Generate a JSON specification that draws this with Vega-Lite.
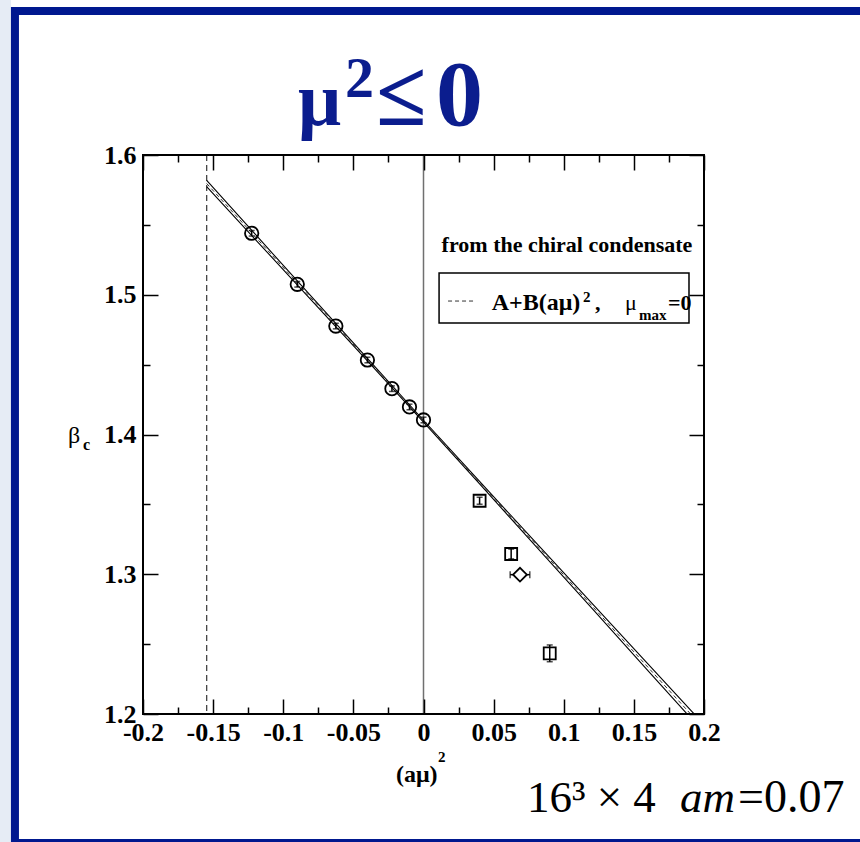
{
  "$schema": "https://vega.github.io/schema/vega-lite/v6.json",
  "width": 561,
  "height": 559,
  "autosize": {"type": "none"},
  "padding": {"left": 143, "top": 155, "right": 156, "bottom": 128},
  "background": "white",
  "config": {
    "view": {"stroke": null},
    "font": "Liberation Serif",
    "axis": {
      "zindex": 1,
      "domain": false,
      "grid": false,
      "tickColor": "black",
      "tickWidth": 1.5,
      "labelColor": "black",
      "labelFont": "Liberation Serif",
      "labelFontWeight": "bold",
      "labelFontSize": 26,
      "labelOverlap": false,
      "labelFlush": false,
      "titleColor": "black"
    }
  },
  "data": {"values": [{}]},
  "datasets": {
    "circles": [
      {"x": -0.1225, "beta": 1.5440, "lo": 1.5420, "hi": 1.5460},
      {"x": -0.09, "beta": 1.5075, "lo": 1.5055, "hi": 1.5095},
      {"x": -0.0625, "beta": 1.4776, "lo": 1.4756, "hi": 1.4796},
      {"x": -0.04, "beta": 1.4533, "lo": 1.4513, "hi": 1.4553},
      {"x": -0.0225, "beta": 1.4328, "lo": 1.4308, "hi": 1.4348},
      {"x": -0.01, "beta": 1.4197, "lo": 1.4177, "hi": 1.4217},
      {"x": 0, "beta": 1.4104, "lo": 1.4084, "hi": 1.4124}
    ],
    "squares": [
      {"x": 0.04, "beta": 1.3526, "lo": 1.3501, "hi": 1.3551},
      {"x": 0.0625, "beta": 1.3145, "lo": 1.3110, "hi": 1.3180},
      {"x": 0.09, "beta": 1.2434, "lo": 1.2374, "hi": 1.2494}
    ],
    "diamond": [
      {"x": 0.0688, "beta": 1.2997, "xlo": 0.0618, "xhi": 0.0758}
    ],
    "band": [
      {"curve": "upper", "x": -0.1546, "beta": 1.5819},
      {"curve": "upper", "x": -0.12, "beta": 1.5433},
      {"curve": "upper", "x": -0.08, "beta": 1.4988},
      {"curve": "upper", "x": -0.04, "beta": 1.4544},
      {"curve": "upper", "x": 0, "beta": 1.4102},
      {"curve": "upper", "x": 0.04, "beta": 1.3664},
      {"curve": "upper", "x": 0.08, "beta": 1.3228},
      {"curve": "upper", "x": 0.12, "beta": 1.2793},
      {"curve": "upper", "x": 0.16, "beta": 1.2359},
      {"curve": "upper", "x": 0.2, "beta": 1.1924},
      {"curve": "lower", "x": -0.1546, "beta": 1.5773},
      {"curve": "lower", "x": -0.12, "beta": 1.5397},
      {"curve": "lower", "x": -0.08, "beta": 1.4962},
      {"curve": "lower", "x": -0.04, "beta": 1.4526},
      {"curve": "lower", "x": 0, "beta": 1.4088},
      {"curve": "lower", "x": 0.04, "beta": 1.3646},
      {"curve": "lower", "x": 0.08, "beta": 1.3202},
      {"curve": "lower", "x": 0.12, "beta": 1.2757},
      {"curve": "lower", "x": 0.16, "beta": 1.2311},
      {"curve": "lower", "x": 0.2, "beta": 1.1866}
    ],
    "fit": [
      {"x": -0.1546, "beta": 1.5796},
      {"x": 0.2, "beta": 1.1895}
    ],
    "refs": [
      {"x": -0.1546, "kind": "mu_max"},
      {"x": 0, "kind": "zero"}
    ]
  },
  "layer": [
    {
      "description": "page margin, left",
      "mark": {"type": "rect", "fill": "#e6ecf5"},
      "encoding": {
        "x": {"datum": -0.4, "type": "quantitative", "scale": {"domain": [-0.2, 0.2], "nice": false, "zero": false}, "axis": null},
        "x2": {"datum": -0.2941},
        "y": {"datum": 1.8, "type": "quantitative", "scale": {"domain": [1.2, 1.6], "nice": false, "zero": false}, "axis": null},
        "y2": {"datum": 1.0}
      }
    },
    {
      "description": "page margin, top",
      "mark": {"type": "rect", "fill": "#e6ecf5"},
      "encoding": {
        "x": {"datum": -0.4, "type": "quantitative", "scale": {"domain": [-0.2, 0.2], "nice": false, "zero": false}, "axis": null},
        "x2": {"datum": 0.5},
        "y": {"datum": 1.8, "type": "quantitative", "scale": {"domain": [1.2, 1.6], "nice": false, "zero": false}, "axis": null},
        "y2": {"datum": 1.7109}
      }
    },
    {
      "description": "slide frame",
      "mark": {"type": "rect", "fill": null, "stroke": "#00188f", "strokeWidth": 8},
      "encoding": {
        "x": {"datum": -0.2913, "type": "quantitative", "scale": {"domain": [-0.2, 0.2], "nice": false, "zero": false}, "axis": null},
        "x2": {"datum": 0.3397},
        "y": {"datum": 1.7030, "type": "quantitative", "scale": {"domain": [1.2, 1.6], "nice": false, "zero": false}, "axis": null},
        "y2": {"datum": 1.1077}
      }
    },
    {
      "data": {"name": "refs"},
      "transform": [{"filter": "datum.kind === 'mu_max'"}],
      "mark": {"type": "rule", "color": "#444444", "strokeWidth": 1.3, "strokeDash": [6, 4]},
      "encoding": {
        "x": {"field": "x", "type": "quantitative", "scale": {"domain": [-0.2, 0.2], "nice": false, "zero": false}, "axis": null}
      }
    },
    {
      "data": {"name": "refs"},
      "transform": [{"filter": "datum.kind === 'zero'"}],
      "mark": {"type": "rule", "color": "#707070", "strokeWidth": 1.5},
      "encoding": {
        "x": {"field": "x", "type": "quantitative", "scale": {"domain": [-0.2, 0.2], "nice": false, "zero": false}, "axis": null}
      }
    },
    {
      "data": {"name": "band"},
      "mark": {"type": "line", "color": "black", "strokeWidth": 1.1, "clip": true},
      "encoding": {
        "x": {"field": "x", "type": "quantitative", "scale": {"domain": [-0.2, 0.2], "nice": false, "zero": false},
              "axis": {"orient": "top", "zindex": 1, "values": [-0.2, -0.15, -0.1, -0.05, 0, 0.05, 0.1, 0.15, 0.2], "tickSize": -15, "labels": false, "title": null}},
        "y": {"field": "beta", "type": "quantitative", "scale": {"domain": [1.2, 1.6], "nice": false, "zero": false},
              "axis": {"orient": "right", "zindex": 1, "values": [1.2, 1.3, 1.4, 1.5, 1.6], "tickSize": -15, "labels": false, "title": null}},
        "detail": {"field": "curve"}
      }
    },
    {
      "data": {"name": "fit"},
      "mark": {"type": "line", "color": "#333333", "strokeWidth": 1, "strokeDash": [4, 3], "clip": true},
      "encoding": {
        "x": {"field": "x", "type": "quantitative", "scale": {"domain": [-0.2, 0.2], "nice": false, "zero": false},
              "axis": {"orient": "top", "zindex": 1, "values": [-0.175, -0.125, -0.075, -0.025, 0.025, 0.075, 0.125, 0.175], "tickSize": -7, "labels": false, "title": null}},
        "y": {"field": "beta", "type": "quantitative", "scale": {"domain": [1.2, 1.6], "nice": false, "zero": false},
              "axis": {"orient": "right", "zindex": 1, "values": [1.25, 1.35, 1.45, 1.55], "tickSize": -7, "labels": false, "title": null}}
      }
    },
    {
      "data": {"name": "circles"},
      "mark": {"type": "errorbar", "ticks": {"size": 6, "thickness": 1.5, "color": "black"}, "rule": {"strokeWidth": 1.5, "color": "black"}},
      "encoding": {
        "x": {"field": "x", "type": "quantitative", "scale": {"domain": [-0.2, 0.2], "nice": false, "zero": false}, "axis": null},
        "y": {"field": "lo", "type": "quantitative", "scale": {"domain": [1.2, 1.6], "nice": false, "zero": false}, "axis": null},
        "y2": {"field": "hi"}
      }
    },
    {
      "data": {"name": "circles"},
      "mark": {"type": "point", "shape": "circle", "size": 180, "filled": false, "color": "black", "strokeWidth": 1.8, "opacity": 1},
      "encoding": {
        "x": {"field": "x", "type": "quantitative", "scale": {"domain": [-0.2, 0.2], "nice": false, "zero": false},
              "axis": {"orient": "bottom", "zindex": 1, "values": [-0.2, -0.15, -0.1, -0.05, 0, 0.05, 0.1, 0.15, 0.2], "tickSize": -15, "labelPadding": 20,
                       "labelExpr": "replace(format(datum.value, '.2~f'), '\u2212', '-')", "title": null}},
        "y": {"field": "beta", "type": "quantitative", "scale": {"domain": [1.2, 1.6], "nice": false, "zero": false},
              "axis": {"orient": "left", "zindex": 1, "values": [1.2, 1.3, 1.4, 1.5, 1.6], "tickSize": -15, "labelPadding": 22, "format": ".1f", "title": null}}
      }
    },
    {
      "data": {"name": "squares"},
      "mark": {"type": "errorbar", "ticks": {"size": 6, "thickness": 1.5, "color": "black"}, "rule": {"strokeWidth": 1.5, "color": "black"}},
      "encoding": {
        "x": {"field": "x", "type": "quantitative", "scale": {"domain": [-0.2, 0.2], "nice": false, "zero": false}, "axis": null},
        "y": {"field": "lo", "type": "quantitative", "scale": {"domain": [1.2, 1.6], "nice": false, "zero": false}, "axis": null},
        "y2": {"field": "hi"}
      }
    },
    {
      "data": {"name": "squares"},
      "mark": {"type": "point", "shape": "square", "size": 144, "filled": false, "color": "black", "strokeWidth": 1.8, "opacity": 1},
      "encoding": {
        "x": {"field": "x", "type": "quantitative", "scale": {"domain": [-0.2, 0.2], "nice": false, "zero": false},
              "axis": {"orient": "bottom", "zindex": 1, "values": [-0.175, -0.125, -0.075, -0.025, 0.025, 0.075, 0.125, 0.175], "tickSize": -7, "labels": false, "title": null}},
        "y": {"field": "beta", "type": "quantitative", "scale": {"domain": [1.2, 1.6], "nice": false, "zero": false},
              "axis": {"orient": "left", "zindex": 1, "values": [1.25, 1.35, 1.45, 1.55], "tickSize": -7, "labels": false, "title": null}}
      }
    },
    {
      "data": {"name": "diamond"},
      "mark": {"type": "errorbar", "ticks": {"size": 7, "thickness": 1.5, "color": "black"}, "rule": {"strokeWidth": 1.5, "color": "black"}},
      "encoding": {
        "x": {"field": "xlo", "type": "quantitative", "scale": {"domain": [-0.2, 0.2], "nice": false, "zero": false}, "axis": null},
        "x2": {"field": "xhi"},
        "y": {"field": "beta", "type": "quantitative", "scale": {"domain": [1.2, 1.6], "nice": false, "zero": false}, "axis": null}
      }
    },
    {
      "data": {"name": "diamond"},
      "mark": {"type": "point", "shape": "diamond", "size": 190, "filled": true, "fill": "white", "stroke": "black", "strokeWidth": 1.8, "opacity": 1},
      "encoding": {
        "x": {"field": "x", "type": "quantitative", "scale": {"domain": [-0.2, 0.2], "nice": false, "zero": false}, "axis": null},
        "y": {"field": "beta", "type": "quantitative", "scale": {"domain": [1.2, 1.6], "nice": false, "zero": false}, "axis": null}
      }
    },
    {
      "description": "plot frame",
      "mark": {"type": "rect", "fill": null, "stroke": "black", "strokeWidth": 2},
      "encoding": {
        "x": {"datum": -0.2, "type": "quantitative", "scale": {"domain": [-0.2, 0.2], "nice": false, "zero": false}, "axis": null},
        "x2": {"datum": 0.2},
        "y": {"datum": 1.6, "type": "quantitative", "scale": {"domain": [1.2, 1.6], "nice": false, "zero": false}, "axis": null},
        "y2": {"datum": 1.2}
      }
    },
    {
      "description": "legend box",
      "mark": {"type": "rect", "fill": "white", "stroke": "black", "strokeWidth": 1.5},
      "encoding": {
        "x": {"datum": 0.0111, "type": "quantitative", "scale": {"domain": [-0.2, 0.2], "nice": false, "zero": false}, "axis": null},
        "x2": {"datum": 0.1893},
        "y": {"datum": 1.5156, "type": "quantitative", "scale": {"domain": [1.2, 1.6], "nice": false, "zero": false}, "axis": null},
        "y2": {"datum": 1.4798}
      }
    },
    {
      "mark": {"type": "rule", "color": "#333333", "strokeWidth": 1, "strokeDash": [4, 3]},
      "encoding": {
        "x": {"datum": 0.0175, "type": "quantitative", "scale": {"domain": [-0.2, 0.2], "nice": false, "zero": false}, "axis": null},
        "x2": {"datum": 0.0355},
        "y": {"datum": 1.4955, "type": "quantitative", "scale": {"domain": [1.2, 1.6], "nice": false, "zero": false}, "axis": null}
      }
    },
    {
      "mark": {"type": "text", "text": "from the chiral condensate", "font": "Liberation Serif", "fontWeight": "bold", "fontSize": 22, "align": "center", "baseline": "alphabetic", "color": "black"},
      "encoding": {
        "x": {"datum": 0.1023, "type": "quantitative", "scale": {"domain": [-0.2, 0.2], "nice": false, "zero": false}, "axis": null},
        "y": {"datum": 1.5308, "type": "quantitative", "scale": {"domain": [1.2, 1.6], "nice": false, "zero": false}, "axis": null}
      }
    },
    {
      "mark": {"type": "text", "text": "A+B(aμ)", "font": "Liberation Serif", "fontWeight": "bold", "fontSize": 24, "align": "left", "baseline": "alphabetic", "color": "black"},
      "encoding": {
        "x": {"datum": 0.0486, "type": "quantitative", "scale": {"domain": [-0.2, 0.2], "nice": false, "zero": false}, "axis": null},
        "y": {"datum": 1.4891, "type": "quantitative", "scale": {"domain": [1.2, 1.6], "nice": false, "zero": false}, "axis": null}
      }
    },
    {
      "mark": {"type": "text", "text": "2", "font": "Liberation Serif", "fontWeight": "bold", "fontSize": 15, "align": "left", "baseline": "alphabetic", "color": "black"},
      "encoding": {
        "x": {"datum": 0.1137, "type": "quantitative", "scale": {"domain": [-0.2, 0.2], "nice": false, "zero": false}, "axis": null},
        "y": {"datum": 1.4948, "type": "quantitative", "scale": {"domain": [1.2, 1.6], "nice": false, "zero": false}, "axis": null}
      }
    },
    {
      "mark": {"type": "text", "text": ",", "font": "Liberation Serif", "fontWeight": "bold", "fontSize": 22, "align": "left", "baseline": "alphabetic", "color": "black"},
      "encoding": {
        "x": {"datum": 0.1223, "type": "quantitative", "scale": {"domain": [-0.2, 0.2], "nice": false, "zero": false}, "axis": null},
        "y": {"datum": 1.4891, "type": "quantitative", "scale": {"domain": [1.2, 1.6], "nice": false, "zero": false}, "axis": null}
      }
    },
    {
      "mark": {"type": "text", "text": "μ", "font": "Liberation Serif", "fontSize": 22, "align": "left", "baseline": "alphabetic", "color": "black"},
      "encoding": {
        "x": {"datum": 0.1437, "type": "quantitative", "scale": {"domain": [-0.2, 0.2], "nice": false, "zero": false}, "axis": null},
        "y": {"datum": 1.4891, "type": "quantitative", "scale": {"domain": [1.2, 1.6], "nice": false, "zero": false}, "axis": null}
      }
    },
    {
      "mark": {"type": "text", "text": "max", "font": "Liberation Serif", "fontWeight": "bold", "fontSize": 15, "align": "left", "baseline": "alphabetic", "color": "black"},
      "encoding": {
        "x": {"datum": 0.1536, "type": "quantitative", "scale": {"domain": [-0.2, 0.2], "nice": false, "zero": false}, "axis": null},
        "y": {"datum": 1.4819, "type": "quantitative", "scale": {"domain": [1.2, 1.6], "nice": false, "zero": false}, "axis": null}
      }
    },
    {
      "mark": {"type": "text", "text": "=0", "font": "Liberation Serif", "fontWeight": "bold", "fontSize": 22, "align": "left", "baseline": "alphabetic", "color": "black"},
      "encoding": {
        "x": {"datum": 0.1743, "type": "quantitative", "scale": {"domain": [-0.2, 0.2], "nice": false, "zero": false}, "axis": null},
        "y": {"datum": 1.4891, "type": "quantitative", "scale": {"domain": [1.2, 1.6], "nice": false, "zero": false}, "axis": null}
      }
    },
    {
      "description": "x axis title",
      "mark": {"type": "text", "text": "(aμ)", "font": "Liberation Serif", "fontWeight": "bold", "fontSize": 24, "align": "left", "baseline": "alphabetic", "color": "black"},
      "encoding": {
        "x": {"datum": -0.0196, "type": "quantitative", "scale": {"domain": [-0.2, 0.2], "nice": false, "zero": false}, "axis": null},
        "y": {"datum": 1.1513, "type": "quantitative", "scale": {"domain": [1.2, 1.6], "nice": false, "zero": false}, "axis": null}
      }
    },
    {
      "mark": {"type": "text", "text": "2", "font": "Liberation Serif", "fontWeight": "bold", "fontSize": 15, "align": "left", "baseline": "alphabetic", "color": "black"},
      "encoding": {
        "x": {"datum": 0.0103, "type": "quantitative", "scale": {"domain": [-0.2, 0.2], "nice": false, "zero": false}, "axis": null},
        "y": {"datum": 1.1657, "type": "quantitative", "scale": {"domain": [1.2, 1.6], "nice": false, "zero": false}, "axis": null}
      }
    },
    {
      "description": "y axis title",
      "mark": {"type": "text", "text": "β", "font": "Liberation Serif", "fontSize": 24, "align": "left", "baseline": "alphabetic", "color": "black"},
      "encoding": {
        "x": {"datum": -0.2535, "type": "quantitative", "scale": {"domain": [-0.2, 0.2], "nice": false, "zero": false}, "axis": null},
        "y": {"datum": 1.3939, "type": "quantitative", "scale": {"domain": [1.2, 1.6], "nice": false, "zero": false}, "axis": null}
      }
    },
    {
      "mark": {"type": "text", "text": "c", "font": "Liberation Serif", "fontWeight": "bold", "fontSize": 16, "align": "left", "baseline": "alphabetic", "color": "black"},
      "encoding": {
        "x": {"datum": -0.2428, "type": "quantitative", "scale": {"domain": [-0.2, 0.2], "nice": false, "zero": false}, "axis": null},
        "y": {"datum": 1.3889, "type": "quantitative", "scale": {"domain": [1.2, 1.6], "nice": false, "zero": false}, "axis": null}
      }
    },
    {
      "description": "slide heading: mu",
      "mark": {"type": "text", "text": "μ", "font": "Liberation Serif", "fontWeight": "bold", "fontSize": 76, "align": "left", "baseline": "alphabetic", "color": "#0b1d8e"},
      "encoding": {
        "x": {"datum": -0.0895, "type": "quantitative", "scale": {"domain": [-0.2, 0.2], "nice": false, "zero": false}, "axis": null},
        "y": {"datum": 1.6215, "type": "quantitative", "scale": {"domain": [1.2, 1.6], "nice": false, "zero": false}, "axis": null}
      }
    },
    {
      "description": "slide heading: exponent",
      "mark": {"type": "text", "text": "2", "font": "Liberation Serif", "fontWeight": "bold", "fontSize": 58, "align": "left", "baseline": "alphabetic", "color": "#0b1d8e"},
      "encoding": {
        "x": {"datum": -0.0560, "type": "quantitative", "scale": {"domain": [-0.2, 0.2], "nice": false, "zero": false}, "axis": null},
        "y": {"datum": 1.6415, "type": "quantitative", "scale": {"domain": [1.2, 1.6], "nice": false, "zero": false}, "axis": null}
      }
    },
    {
      "description": "slide heading: relation",
      "mark": {"type": "text", "text": "≤", "font": "Liberation Serif", "fontWeight": "bold", "fontSize": 92, "align": "left", "baseline": "alphabetic", "color": "#0b1d8e"},
      "encoding": {
        "x": {"datum": -0.0339, "type": "quantitative", "scale": {"domain": [-0.2, 0.2], "nice": false, "zero": false}, "axis": null},
        "y": {"datum": 1.6215, "type": "quantitative", "scale": {"domain": [1.2, 1.6], "nice": false, "zero": false}, "axis": null}
      }
    },
    {
      "mark": {"type": "text", "text": "0", "font": "Liberation Serif", "fontWeight": "bold", "fontSize": 94, "align": "left", "baseline": "alphabetic", "color": "#0b1d8e"},
      "encoding": {
        "x": {"datum": 0.0089, "type": "quantitative", "scale": {"domain": [-0.2, 0.2], "nice": false, "zero": false}, "axis": null},
        "y": {"datum": 1.6215, "type": "quantitative", "scale": {"domain": [1.2, 1.6], "nice": false, "zero": false}, "axis": null}
      }
    },
    {
      "description": "lattice parameters",
      "mark": {"type": "text", "text": "16³ × 4", "font": "Liberation Serif", "fontSize": 45, "align": "left", "baseline": "alphabetic", "color": "black"},
      "encoding": {
        "x": {"datum": 0.0738, "type": "quantitative", "scale": {"domain": [-0.2, 0.2], "nice": false, "zero": false}, "axis": null},
        "y": {"datum": 1.1299, "type": "quantitative", "scale": {"domain": [1.2, 1.6], "nice": false, "zero": false}, "axis": null}
      }
    },
    {
      "mark": {"type": "text", "text": "am", "font": "Liberation Serif", "fontStyle": "italic", "fontSize": 45, "align": "left", "baseline": "alphabetic", "color": "black"},
      "encoding": {
        "x": {"datum": 0.1829, "type": "quantitative", "scale": {"domain": [-0.2, 0.2], "nice": false, "zero": false}, "axis": null},
        "y": {"datum": 1.1299, "type": "quantitative", "scale": {"domain": [1.2, 1.6], "nice": false, "zero": false}, "axis": null}
      }
    },
    {
      "mark": {"type": "text", "text": "=0.07", "font": "Liberation Serif", "fontSize": 46, "align": "left", "baseline": "alphabetic", "color": "black"},
      "encoding": {
        "x": {"datum": 0.2242, "type": "quantitative", "scale": {"domain": [-0.2, 0.2], "nice": false, "zero": false}, "axis": null},
        "y": {"datum": 1.1299, "type": "quantitative", "scale": {"domain": [1.2, 1.6], "nice": false, "zero": false}, "axis": null}
      }
    }
  ],
  "resolve": {"axis": {"x": "independent", "y": "independent"}}
}
